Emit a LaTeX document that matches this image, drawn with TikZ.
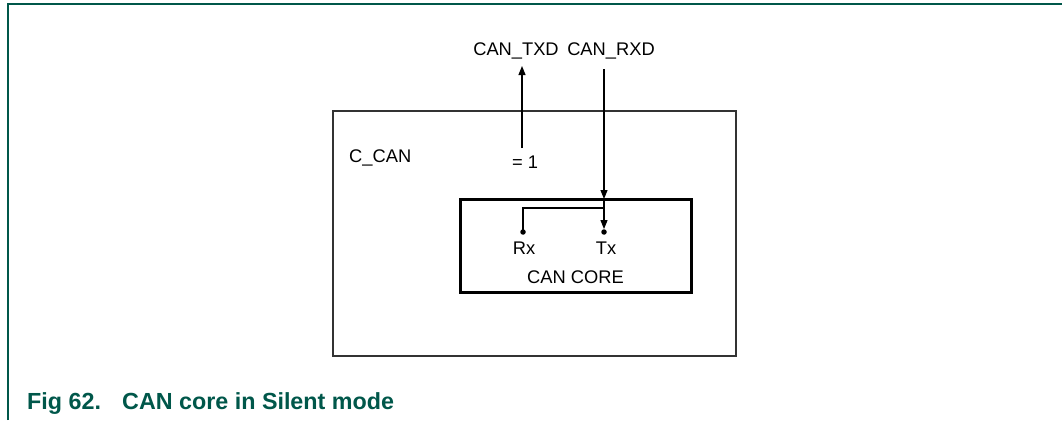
\documentclass[tikz,border=0pt]{standalone}
\usepackage{fontspec}
\setmainfont{Liberation Sans}
\usetikzlibrary{arrows.meta}
\definecolor{nxpgreen}{HTML}{00574A}
\begin{document}
\begin{tikzpicture}[x=1pt,y=-1pt,
  lbl/.style={inner sep=0pt, font=\fontsize{18.3}{20}\selectfont},
  sig/.style={line width=1.1pt, -{Triangle[length=9pt,width=7pt]}},
  wire/.style={line width=1.1pt},
  pin/.style={circle, fill, inner sep=0pt, minimum size=5.5pt},
  figcaption/.style={inner sep=0pt, anchor=base west, text=nxpgreen, font=\fontsize{23.3}{25}\selectfont\bfseries}]
\useasboundingbox (0,0) rectangle (1062,420);
\draw[nxpgreen, line width=2pt] (8,420) -- (8,4) -- (1062,4);
% boxes
\node[draw=black!80, line width=1.5pt, minimum width=403pt, minimum height=245pt, inner sep=0pt] (ccan) at (534.5,233.5) {};
\node[draw=black, line width=3pt, minimum width=231pt, minimum height=93pt, inner sep=0pt] (core) at (575.5,245.5) {};
% labels
\node[lbl, anchor=west] (ccanlbl) at (349,157.5) {C\_CAN};
\node[lbl] (txd) at (516,51) {CAN\_TXD};
\node[lbl] (rxd) at (611,51) {CAN\_RXD};
\node[lbl] (eq) at (525,162) {= 1};
\node[lbl] (rx) at (524,248) {Rx};
\node[lbl] (tx) at (606,248) {Tx};
\node[lbl] (corelbl) at (575.5,277) {CAN CORE};
% pins and coordinates
\node[pin] (rxpin) at (523,232) {};
\node[pin] (txpin) at (604,232) {};
\coordinate (rxdsrc) at (604,69);
\coordinate (coretop) at (604,199);
\coordinate (junc) at (604,208);
\coordinate (rxcorner) at (523,208);
\coordinate (eqtop) at (522,148);
\coordinate (txdend) at (522,66);
% connectors
\draw[sig] (rxdsrc) -- (coretop);
\draw[wire] (coretop) -- (junc);
\draw[wire] (junc) -- (rxcorner) -- (rxpin.center);
\draw[sig] (junc) -- (txpin.north);
\draw[sig] (eqtop) -- (txdend);
% caption
\node[figcaption] (capnum) at (27,409) {Fig 62.};
\node[figcaption] (captext) at (122,409) {CAN core in Silent mode};
\end{tikzpicture}
\end{document}
